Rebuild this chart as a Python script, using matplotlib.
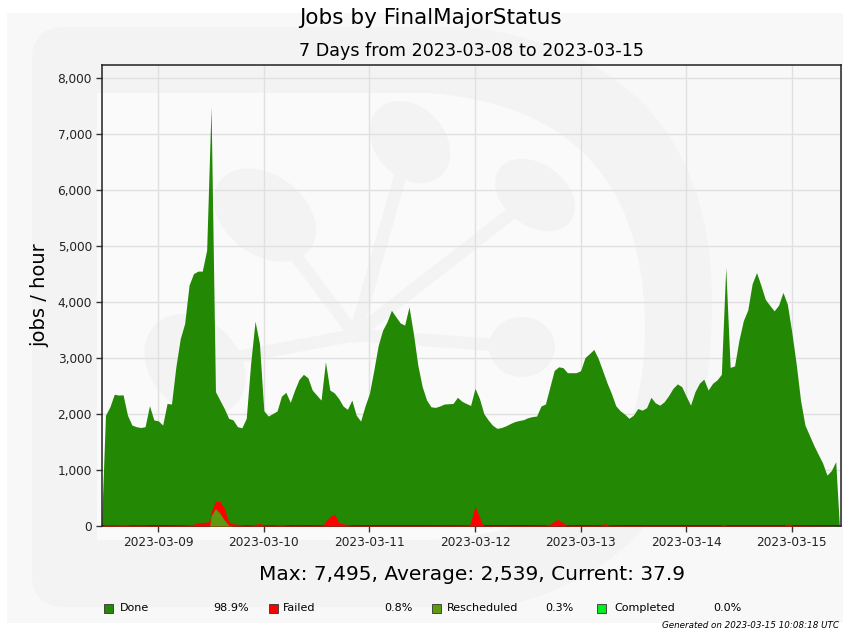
import numpy as np
import pandas as pd
import matplotlib
matplotlib.use('Agg')
import matplotlib.pyplot as plt
import matplotlib.ticker as mticker
import matplotlib.dates as mdates
from matplotlib.patches import Rectangle, Ellipse, PathPatch
from matplotlib.path import Path

# hours after 2023-03-09 00:00 UTC
done_hours = [-12.9, -12, -11, -10, -9, -8, -7, -6, -5, -4, -3, -2, -1, 0, 1, 2, 3, 4, 5, 6,
              7, 8, 9, 10, 11, 12, 13, 14, 15, 16, 17, 18, 19, 20, 21, 22, 23, 24, 25, 26,
              27, 28, 29, 30, 31, 32, 33, 34, 35, 36, 37, 38, 39, 40, 41, 42, 43, 44, 45, 46,
              47, 48, 49, 50, 51, 52, 53, 54, 55, 56, 57, 58, 59, 60, 61, 62, 63, 64, 65, 66,
              67, 68, 69, 70, 71, 72, 73, 74, 75, 76, 77, 78, 79, 80, 81, 82, 83, 84, 85, 86,
              87, 88, 89, 90, 91, 92, 93, 94, 95, 96, 97, 98, 99, 100, 101, 102, 103, 104, 105, 106,
              107, 108, 109, 110, 111, 112, 113, 114, 115, 116, 117, 118, 119, 120, 121, 122, 123, 124, 125, 126,
              127, 128, 129, 130, 131, 132, 133, 134, 135, 136, 137, 138, 139, 140, 141, 142, 143, 144, 145, 146,
              147, 148, 149, 150, 151, 152, 153, 154, 154.8]
done = [30, 1980, 2130, 2355, 2340, 2345, 1980, 1805, 1775, 1760, 1775, 2150, 1895, 1880, 1805, 2190, 2180, 2845, 3350, 3620,
        4305, 4510, 4555, 4555, 4930, 7495, 2400, 2250, 2100, 1925, 1895, 1775, 1755, 1925, 2905, 3660, 3260, 2060, 1965, 2010,
        2055, 2320, 2390, 2210, 2430, 2620, 2710, 2650, 2430, 2340, 2250, 2935, 2430, 2380, 2280, 2145, 2085, 2250, 1980, 1875,
        2145, 2370, 2785, 3230, 3500, 3650, 3855, 3740, 3630, 3590, 3915, 3440, 2875, 2490, 2250, 2130, 2120, 2145, 2180, 2185,
        2190, 2300, 2230, 2190, 2155, 2460, 2280, 2010, 1895, 1800, 1745, 1760, 1790, 1830, 1865, 1885, 1900, 1935, 1955, 1965,
        2145, 2180, 2480, 2780, 2845, 2830, 2740, 2740, 2740, 2775, 3010, 3080, 3155, 2995, 2780, 2560, 2370, 2150, 2060, 2000,
        1925, 1980, 2100, 2070, 2115, 2300, 2200, 2160, 2220, 2330, 2460, 2540, 2490, 2320, 2160, 2400, 2550, 2625, 2430, 2550,
        2610, 2710, 4620, 2835, 2860, 3320, 3670, 3860, 4330, 4530, 4300, 4050, 3945, 3845, 3945, 4175, 3965, 3470, 2905, 2250,
        1805, 1625, 1445, 1285, 1130, 910, 990, 1150, 38]

bad_hours = [-12.9, -12, -10, -8, -6, -4, -2, 0, 2, 4, 6, 8, 9, 10, 11, 11.7, 12, 13, 14, 15,
             16, 17, 18, 20, 22, 23, 24, 26, 28, 30, 32, 34, 36, 37.5, 38.5, 39.5, 40.2, 41, 42, 44,
             48, 52, 56, 60, 64, 68, 70.8, 71.5, 72, 72.7, 73.4, 74, 76, 80, 84, 88, 89.2, 90.8, 92, 92.8,
             96, 100.5, 101.5, 102.5, 106, 112, 120, 127.5, 128.4, 129.5, 136, 142.3, 143.2, 144.2, 150, 154.8]
failed = [0, 25, 20, 30, 15, 20, 10, 12, 10, 15, 20, 30, 55, 65, 70, 80, 70, 130, 210, 210,
          65, 40, 30, 15, 30, 45, 20, 15, 30, 10, 15, 10, 15, 20, 130, 195, 200, 60, 40, 15,
          10, 10, 10, 10, 12, 15, 20, 200, 360, 230, 80, 10, 10, 10, 10, 15, 40, 120, 60, 15,
          10, 15, 45, 15, 10, 10, 10, 10, 30, 10, 10, 10, 40, 10, 5, 0]
rescheduled = [0, 0, 0, 0, 0, 0, 0, 0, 0, 0, 0, 0, 0, 0, 0, 0, 180, 310, 230, 110,
               15, 0, 0, 0, 0, 0, 0, 0, 0, 0, 0, 0, 0, 0, 0, 0, 0, 0, 0, 0,
               0, 0, 0, 0, 0, 0, 0, 0, 0, 0, 0, 0, 0, 0, 0, 0, 0, 0, 0, 0,
               0, 0, 0, 0, 0, 0, 0, 0, 0, 0, 0, 0, 0, 0, 0, 0]

labels = ['Done', 'Failed', 'Rescheduled', 'Completed']
shares = ['98.9%', '0.8%', '0.3%', '0.0%']
colors = ['#238804', '#ff0000', '#5e9910', '#00ee22']

base = pd.Timestamp('2023-03-09')
t_done = base + pd.to_timedelta(done_hours, unit='h')
t_bad = base + pd.to_timedelta(bad_hours, unit='h')
failed_top = np.array(failed) + np.array(rescheduled)

W, H = 843, 635
fig = plt.figure(figsize=(W / 100, H / 100), dpi=100)
fig.patch.set_facecolor('white')


def px(x, y):
    return (x / W, 1 - y / H)


# faint logo watermark in the background
tf = fig.transFigure
band = '#f3f3f3'
fig.patches.append(Rectangle(px(7, 623), (843 - 7) / W, (623 - 13) / H, transform=tf,
                             facecolor='#f8f8f8', edgecolor='none', zorder=-10))
outer = [px(32, 60), px(32, 27), px(65, 27), px(470, 27), px(710, 60), px(712, 300),
         px(714, 560), px(500, 607), px(65, 607), px(32, 607), px(32, 575), px(32, 60)]
outer_codes = [Path.MOVETO, Path.CURVE3, Path.CURVE3, Path.LINETO, Path.CURVE3, Path.CURVE3,
               Path.CURVE3, Path.CURVE3, Path.LINETO, Path.CURVE3, Path.CURVE3, Path.CLOSEPOLY]
fig.patches.append(PathPatch(Path(outer, outer_codes), transform=tf, facecolor=band,
                             edgecolor='none', zorder=-9))
inner = [px(97, 93), px(430, 93), px(640, 110), px(645, 320), px(650, 530), px(430, 540),
         px(97, 540), px(97, 93)]
inner_codes = [Path.MOVETO, Path.LINETO, Path.CURVE3, Path.CURVE3, Path.CURVE3, Path.CURVE3,
               Path.LINETO, Path.CLOSEPOLY]
fig.patches.append(PathPatch(Path(inner, inner_codes), transform=tf, facecolor='#fafafa',
                             edgecolor='none', zorder=-8))
hub = (355, 335)
blobs = [((265, 215), 90, 100, 30), ((410, 142), 75, 85, 20), ((535, 195), 70, 78, 30),
         ((522, 347), 66, 60, 0), ((195, 365), 95, 105, 20)]
for (cx, cy), bw, bh, ang in blobs:
    fig.lines.append(plt.Line2D([hub[0] / W, cx / W], [1 - hub[1] / H, 1 - cy / H],
                                transform=tf, color=band, lw=9, zorder=-7))
    fig.patches.append(Ellipse(px(cx, cy), bw / W, bh / H, angle=ang, transform=tf,
                               facecolor=band, edgecolor='none', zorder=-7))

ax = fig.add_axes([101.7 / W, 1 - 526 / H, (841 - 101.7) / W, (526 - 64.7) / H])
ax.set_facecolor('none')

ax.fill_between(t_done, 0, done, color=colors[0], lw=0, zorder=2)
ax.fill_between(t_bad, 0, failed_top, color=colors[1], lw=0, zorder=3)
ax.fill_between(t_bad, 0, rescheduled, color=colors[2], lw=0, zorder=4)

ax.set_xlim(base - pd.Timedelta(hours=12.86), base + pd.Timedelta(hours=155.2))
ax.set_ylim(0, max(done) * 1.1)
ax.xaxis.set_major_locator(mdates.DayLocator())
ax.xaxis.set_major_formatter(mdates.DateFormatter('%Y-%m-%d'))
ax.yaxis.set_major_locator(mticker.MultipleLocator(1000))
ax.yaxis.set_major_formatter(mticker.FuncFormatter(lambda v, p: f'{int(v):,}'))
ax.grid(True, color='#e0e0e0', lw=1, zorder=1)
ax.set_axisbelow(True)
ax.tick_params(labelsize=8.7, length=4, width=1, color='#333333', labelcolor='#222222', pad=3)
for s in ax.spines.values():
    s.set_color('#222222')
    s.set_linewidth(1.1)
ax.set_ylabel('jobs / hour', fontsize=14, labelpad=6)
ax.set_title('7 Days from 2023-03-08 to 2023-03-15', fontsize=12.6, pad=6)

fig.text(430 / W, 1 - 18 / H, 'Jobs by FinalMajorStatus', ha='center', va='center', fontsize=15.5)
fig.text(472 / W, 1 - 574 / H, 'Max: 7,495, Average: 2,539, Current: 37.9',
         ha='center', va='center', fontsize=14.5)

sq_x = [103.5, 269, 432, 597]
lab_x = [120, 283, 447, 614]
pct_x = [249, 413, 573, 742]
for i in range(4):
    fig.patches.append(Rectangle(px(sq_x[i], 613), 9 / W, 9 / H, transform=tf,
                                 facecolor=colors[i], edgecolor='#333333', lw=0.6))
    fig.text(lab_x[i] / W, 1 - 608 / H, labels[i], ha='left', va='center', fontsize=8)
    fig.text(pct_x[i] / W, 1 - 608 / H, shares[i], ha='right', va='center', fontsize=8)
fig.text(662 / W, 1 - 626 / H, 'Generated on 2023-03-15 10:08:18 UTC', ha='left',
         va='center', fontsize=6.3, style='italic')

fig.savefig('out.png', dpi=100)
